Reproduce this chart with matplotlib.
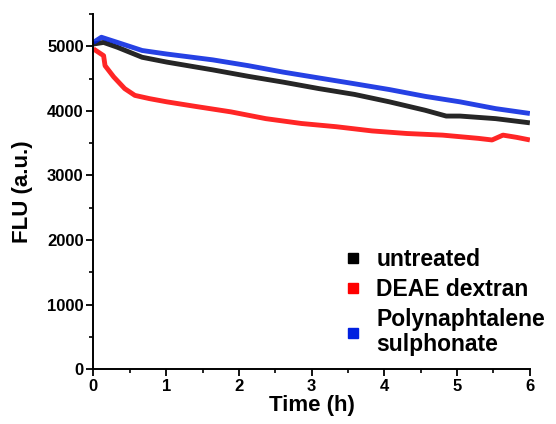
import matplotlib
matplotlib.use('Agg')
import matplotlib.pyplot as plt
from matplotlib.ticker import MultipleLocator

plt.rcParams['font.family'] = ['Liberation Sans', 'DejaVu Sans']
plt.rcParams['font.weight'] = 'bold'

# values (time in h, fluorescence in a.u.)
t_untreated = [0, 0.14, 0.33, 0.67, 1.01, 1.64, 2.13, 2.61, 3.1, 3.59, 4.07, 4.56, 4.85, 5.04, 5.53, 6.0]
untreated = [5035, 5060, 4985, 4830, 4755, 4635, 4535, 4445, 4345, 4255, 4140, 4010, 3920, 3920, 3880, 3815]

t_deae = [0, 0.14, 0.16, 0.28, 0.43, 0.57, 0.77, 1.01, 1.4, 1.89, 2.37, 2.86, 3.34, 3.83, 4.31, 4.8, 5.29, 5.48, 5.63, 5.82, 6.0]
deae = [4960, 4855, 4700, 4525, 4345, 4240, 4190, 4140, 4070, 3985, 3880, 3805, 3755, 3690, 3650, 3625, 3575, 3550, 3625, 3590, 3550]

t_pns = [0, 0.11, 0.33, 0.67, 1.01, 1.64, 2.13, 2.61, 3.1, 3.59, 4.07, 4.56, 5.04, 5.53, 6.0]
pns = [5060, 5140, 5060, 4935, 4880, 4790, 4700, 4600, 4510, 4420, 4330, 4225, 4140, 4035, 3960]

labels = ['untreated', 'DEAE dextran', 'Polynaphtalene\nsulphonate']
colors = ['black', 'red', '#0020e0']

fig = plt.figure(figsize=(5.56, 4.24), dpi=100)
ax = fig.add_axes([0.168, 0.129, 0.785, 0.838])

series = [(t_untreated, untreated), (t_deae, deae), (t_pns, pns)]
for (t, v), lab, c in zip(series, labels, colors):
    ax.plot(t, v, color=c, lw=3.5, alpha=0.85, solid_capstyle='butt')
    ax.plot([], [], 's', color=c, ms=7, label=lab)

ax.set_xlim(0, 6)
ax.set_ylim(0, 5500)
ax.xaxis.set_major_locator(MultipleLocator(1))
ax.xaxis.set_minor_locator(MultipleLocator(0.5))
ax.yaxis.set_major_locator(MultipleLocator(1000))
ax.yaxis.set_minor_locator(MultipleLocator(500))
ax.tick_params(which='major', direction='out', length=5, width=1.3, labelsize=12, pad=2)
ax.tick_params(which='minor', direction='out', length=3, width=1.2)
for s in ['top', 'right']:
    ax.spines[s].set_visible(False)
for s in ['left', 'bottom']:
    ax.spines[s].set_linewidth(1.4)

ax.set_xlabel('Time (h)', fontsize=16, fontweight='bold', labelpad=1)
ax.set_ylabel('FLU (a.u.)', fontsize=16, fontweight='bold', labelpad=10)

leg = fig.legend(loc='upper left', bbox_to_anchor=(0.619, 0.415), frameon=False, fontsize=16.5,
                 handlelength=0.8, handletextpad=0.6, labelspacing=0.3,
                 borderaxespad=0, borderpad=0)
leg.get_texts()[2].set_linespacing(1.12)

fig.savefig('out.png', dpi=100)
